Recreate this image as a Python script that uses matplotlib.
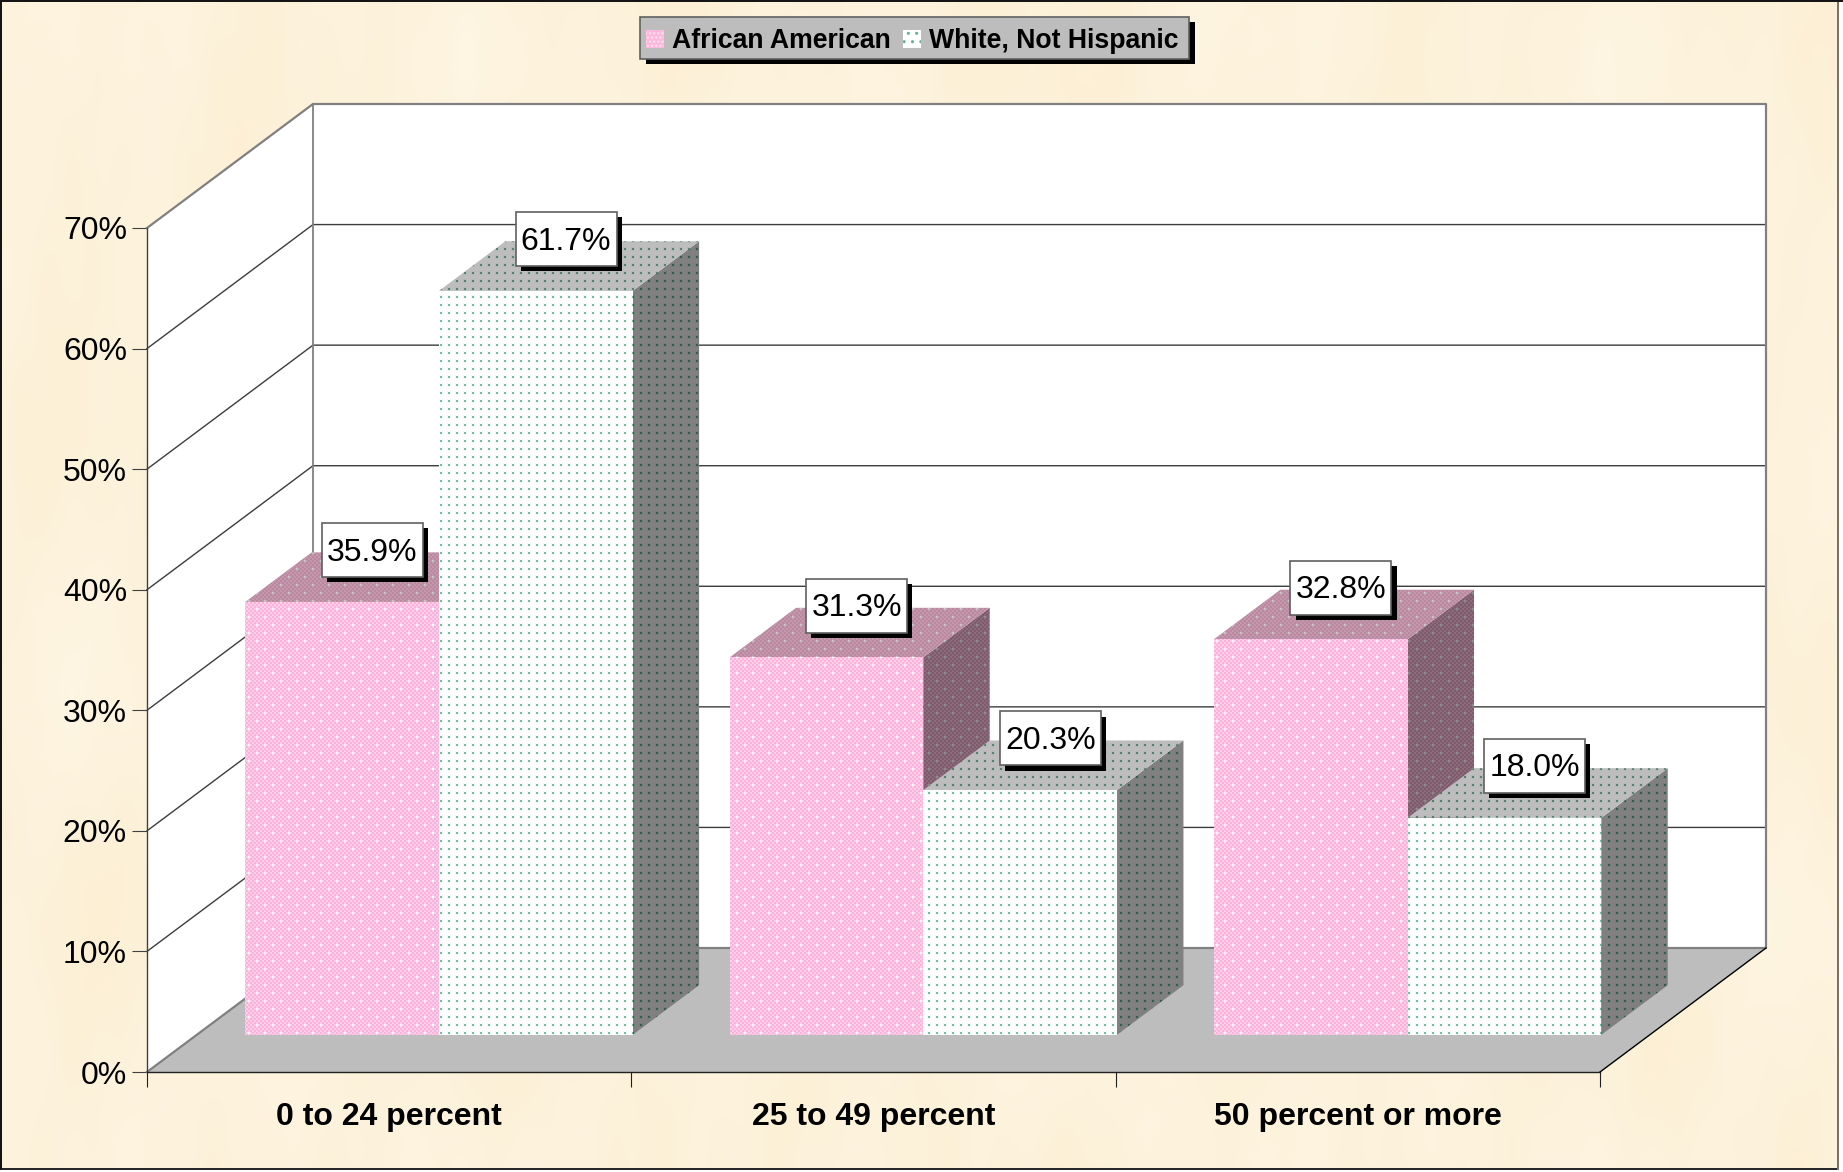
import numpy as np
import matplotlib
matplotlib.use("Agg")
import matplotlib.pyplot as plt
import matplotlib.patheffects as pe
from matplotlib.patches import Patch, Polygon, Rectangle

plt.rcParams['font.family'] = ['Liberation Sans', 'DejaVu Sans']

categories = ['0 to 24 percent', '25 to 49 percent', '50 percent or more']
series_names = ['African American', 'White, Not Hispanic']
african_american = [35.9, 31.3, 32.8]
white_not_hispanic = [61.7, 20.3, 18.0]
y_ticks = [0, 10, 20, 30, 40, 50, 60, 70]
y_labels = ['0%', '10%', '20%', '30%', '40%', '50%', '60%', '70%']

W, H = 1843, 1172

# front plane in pixels
left, right = 147, 1600
base, top = 1072, 228
px_x = (right - left) / 3
px_y = (base - top) / 70
# depth of the box
DX = 166 / px_x
DY = 124 / px_y


def proj(x, y, d):
    return x + d * DX, y + d * DY


def dots(pat, color, px=8, size=2, halo=None):
    yy, xx = np.mgrid[0:H, 0:W]
    if halo is not None:
        pat[((xx + 1) % px < size + 2) & ((yy + 1) % px < size + 2)] = halo
    pat[(xx % px < size) & (yy % px < size)] = color
    return pat


def checker(c1, c2, cell=2):
    yy, xx = np.mgrid[0:H, 0:W]
    pat = np.zeros((H, W, 3), dtype=np.uint8)
    pat[:] = c1
    pat[((xx // cell) + (yy // cell)) % 2 == 1] = c2
    return pat


def staggered(pat, color):
    yy, xx = np.mgrid[0:H, 0:W]
    m = (yy % 16 < 2) & (xx % 16 < 2)
    m |= ((yy + 8) % 16 < 2) & ((xx + 8) % 16 < 2)
    pat[m] = color
    return pat


def flat(c):
    pat = np.zeros((H, W, 3), dtype=np.uint8)
    pat[:] = c
    return pat


pink_front = staggered(checker((255, 176, 218), (255, 208, 233)), (255, 255, 255))
pink_top = staggered(checker((188, 136, 160), (192, 154, 172)), (196, 196, 196))
pink_side = staggered(checker((126, 90, 108), (136, 108, 122)), (140, 140, 140))
white_front = dots(flat((255, 255, 255)), (112, 192, 154), halo=(244, 250, 247))
white_top = dots(flat((189, 189, 189)), (84, 130, 110), halo=(180, 184, 182))
white_side = dots(flat((128, 128, 128)), (48, 96, 76), halo=(120, 125, 122))

# parchment background
yy, xx = np.mgrid[0:H, 0:W]
tex = (np.sin(xx / 61.0) * np.sin(yy / 97.0 + 1.0) + np.sin(xx / 23.0 + yy / 140.0) * 0.5
       + np.sin(xx / 170.0 - yy / 60.0) * 0.4 + np.sin(xx / 9.0) * np.sin(yy / 35.0) * 0.3)
paper = np.zeros((H, W, 3), dtype=np.uint8)
paper[..., 0] = np.clip(253 + tex * 0.5, 0, 255)
paper[..., 1] = np.clip(242 + tex * 1.5, 0, 255)
paper[..., 2] = np.clip(219 + tex * 3.5, 0, 255)
paper[:, 1839:] = 255
paper[1170:, :] = 255
paper[1168:1170, :1839] = (40, 40, 40)
paper[:1170, 1837:1839] = (120, 115, 100)
paper[:2, :] = (20, 20, 20)
paper[:1170, :2] = (20, 20, 20)

fig = plt.figure(figsize=(W / 100, H / 100), dpi=100, facecolor='white')
ax = fig.add_axes([0, 0, 1, 1])
ax.patch.set_visible(False)
xlim = (-left / px_x, (W - left) / px_x)
ylim = (-(H - base) / px_y, base / px_y)
ax.set_xlim(xlim)
ax.set_ylim(ylim)
extent = (xlim[0], xlim[1], ylim[0], ylim[1])

ax.imshow(paper, extent=extent, aspect='auto', interpolation='nearest', zorder=-10)


def face(pts, pattern, z):
    p = Polygon(pts, closed=True, transform=ax.transData, fc='none', ec='none')
    im = ax.imshow(pattern, extent=extent, aspect='auto', interpolation='nearest', zorder=z)
    im.set_clip_path(p)


# walls and floor
ax.add_patch(Polygon([proj(0, 0, 0), proj(0, 0, 1), proj(0, 70, 1), proj(0, 70, 0)],
                     fc='white', ec='none', zorder=1))
ax.add_patch(Polygon([proj(0, 0, 1), proj(3, 0, 1), proj(3, 70, 1), proj(0, 70, 1)],
                     fc='white', ec='none', zorder=1))
ax.add_patch(Polygon([proj(0, 0, 0), proj(3, 0, 0), proj(3, 0, 1), proj(0, 0, 1)],
                     fc='#bdbdbd', ec='none', zorder=1))

for v in y_ticks[1:-1]:
    a, b, c = proj(0, v, 0), proj(0, v, 1), proj(3, v, 1)
    ax.plot([a[0], b[0], c[0]], [a[1], b[1], c[1]], color='#3c3c3c', lw=1.0, zorder=2)

# grey frame of the walls
frame = [proj(0, 0, 0), proj(0, 0, 1), proj(3, 0, 1), proj(3, 70, 1), proj(0, 70, 1), proj(0, 70, 0)]
ax.plot([p[0] for p in frame], [p[1] for p in frame], color='#808080', lw=1.6, zorder=2)
a, b = proj(0, 0, 1), proj(0, 70, 1)
ax.plot([a[0], b[0]], [a[1], b[1]], color='#808080', lw=1.3, zorder=2)
a, b = proj(3, 0, 0), proj(3, 0, 1)
ax.plot([a[0], b[0]], [a[1], b[1]], color='black', lw=1.0, zorder=2)

# bars
d0, d1 = 0.3, 0.7
z = 3
labels = []
for i in range(3):
    for j, (vals, fr, tp, sd) in enumerate([(african_american, pink_front, pink_top, pink_side),
                                            (white_not_hispanic, white_front, white_top, white_side)]):
        x0 = i + 0.1 + j * 0.4
        x1 = x0 + 0.4
        v = vals[i]
        face([proj(x1, 0, d0), proj(x1, 0, d1), proj(x1, v, d1), proj(x1, v, d0)], sd, z)
        face([proj(x0, v, d0), proj(x1, v, d0), proj(x1, v, d1), proj(x0, v, d1)], tp, z + 1)
        face([proj(x0, 0, d0), proj(x1, 0, d0), proj(x1, v, d0), proj(x0, v, d0)], fr, z + 2)
        z += 3
        labels.append((proj((x0 + x1) / 2, v, 0.5), '%.1f%%' % v))

# value labels
bw, bh = 101 / px_x, 54 / px_y
for (cx, cy), txt in labels:
    cx = cx - 3 / px_x
    cy = cy + 27 / px_y
    box = Rectangle((cx - bw / 2, cy - bh / 2), bw, bh, fc='white', ec='#606060', lw=1.2, zorder=50)
    box.set_path_effects([pe.SimplePatchShadow(offset=(3.8, -3.8), shadow_rgbFace='black', alpha=1),
                          pe.Normal()])
    ax.add_patch(box)
    ax.text(cx, cy - 2.5 / px_y, txt, ha='center', va='center', fontsize=23, color='black', zorder=51)

# axes
for s in ['top', 'right']:
    ax.spines[s].set_visible(False)
ax.spines['left'].set_position(('data', 0))
ax.spines['left'].set_bounds(0, 70)
ax.spines['bottom'].set_position(('data', 0))
ax.spines['bottom'].set_bounds(0, 3)
ax.spines['left'].set_color('#404040')
ax.spines['bottom'].set_color('#202020')
ax.spines['left'].set_zorder(40)
ax.spines['bottom'].set_zorder(40)
ax.spines['left'].set_linewidth(1.0)
ax.spines['bottom'].set_linewidth(1.0)
ax.set_yticks(y_ticks)
ax.set_yticklabels(y_labels, fontsize=23)
ax.set_xticks([0, 1, 2, 3])
ax.set_xticklabels([])
ax.set_xticks([0.5, 1.5, 2.5], minor=True)
ax.set_xticklabels(categories, minor=True, fontsize=23, fontweight='bold')
ax.tick_params(axis='y', length=10.8, width=0.8, color='#404040', pad=3.6)
ax.tick_params(axis='x', which='major', length=10.8, width=0.8, color='#202020')
ax.tick_params(axis='x', which='minor', length=0, pad=21.7)

# legend box drawn by hand, its padding differs across and down
leg_box = Rectangle((640 / W, 1 - 59 / H), 549 / W, 42 / H, transform=ax.transAxes,
                    fc='#bdbdbd', ec='#606060', lw=1.2, zorder=59)
leg_box.set_path_effects([pe.SimplePatchShadow(offset=(4.3, -3.6), shadow_rgbFace='black', alpha=1),
                          pe.Normal()])
ax.add_patch(leg_box)

handles = [Patch(facecolor='#ffb8dc', edgecolor='#ffe8f4', hatch='....', lw=0),
           Patch(facecolor='white', edgecolor='#5fb58f', hatch='..', lw=0)]
leg = ax.legend(handles, series_names, ncol=2, loc='center', bbox_to_anchor=(912 / W, 1 - 41.5 / H),
                prop={'family': 'Liberation Sans', 'weight': 'bold', 'size': 19.2},
                frameon=False, handlelength=0.68, handleheight=0.68, handletextpad=0.3,
                columnspacing=0.45, borderpad=0, borderaxespad=0)
leg.set_zorder(60)

plt.savefig('out.png', dpi=100)
